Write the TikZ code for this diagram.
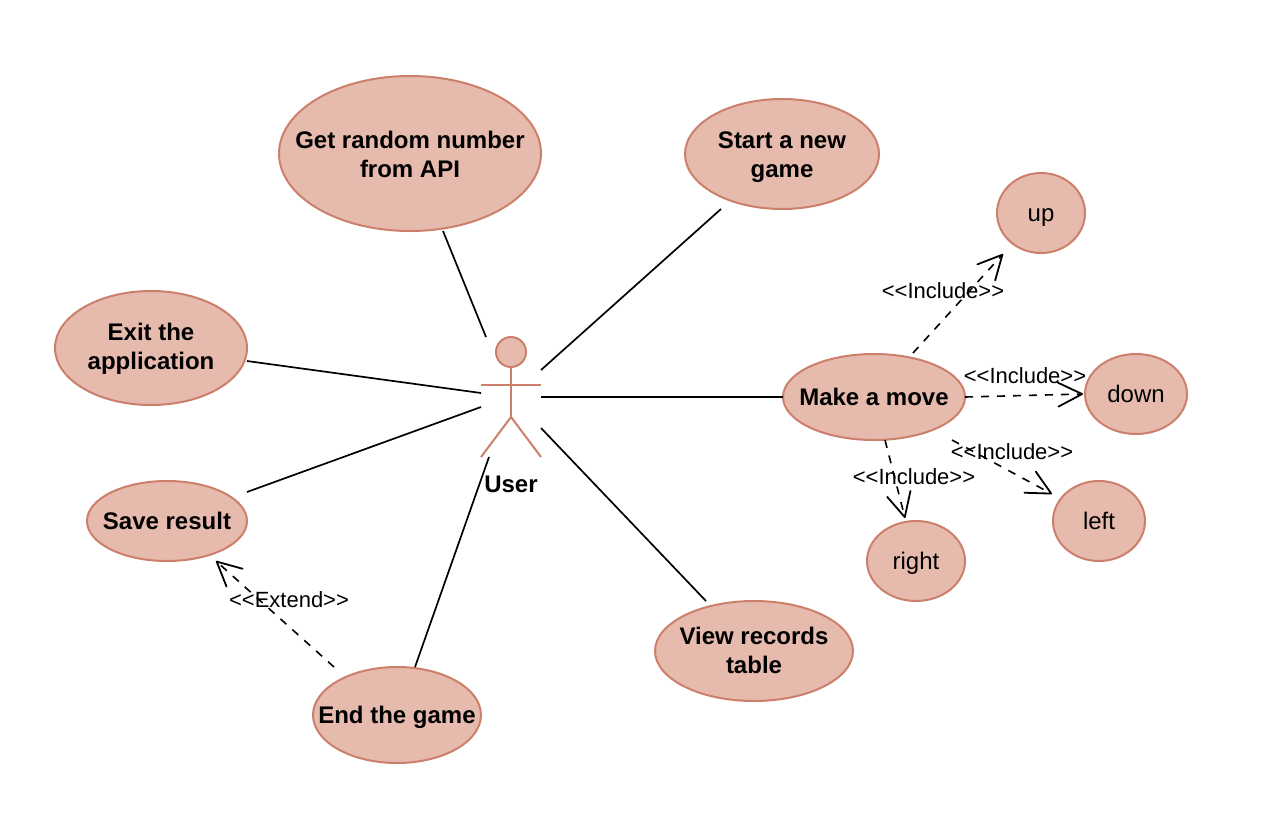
\documentclass[tikz,border=0pt]{standalone}
\usepackage{fontspec}
\setmainfont{Liberation Sans}
\usetikzlibrary{shapes.geometric,arrows.meta}
\definecolor{ucfill}{HTML}{E6BBAE}
\definecolor{ucline}{HTML}{CC7F6B}
\tikzset{
  uc/.style 2 args={ellipse,draw=ucline,fill=ucfill,line width=2*0.75pt,inner sep=-60pt,outer sep=0pt,
    minimum width=#1*0.75pt,minimum height=#2*0.75pt,align=center,text height=17.4*0.75pt,text depth=0pt},
  bigtext/.style={font=\fontsize{18}{21.75}\selectfont\bfseries},
  smalltext/.style={font=\fontsize{18}{21.75}\selectfont},
  edgelabel/.style={font=\fontsize{16.5}{20}\selectfont,inner sep=0pt},
  assoc/.style={draw=black,line width=1.7*0.75pt},
  dep/.style={draw=black,line width=1.6*0.75pt,dash pattern=on 6pt off 6pt,
    -{Straight Barb[length=18pt,width=18pt,line width=1.8*0.75pt,round=false,sep=0pt]}},
  figure/.style={draw=ucline,line width=2*0.75pt},
}
\begin{document}
\begin{tikzpicture}[x=0.75pt,y=-0.75pt]
\useasboundingbox (0,0) rectangle (1262,818);
% use cases
\node[uc={262}{155},bigtext,text height=48.4*0.75pt] (api) at (410,153.5) {Get random number\\from API};
\node[uc={194}{110},bigtext,text height=47.4*0.75pt] (start) at (782,154) {Start a new\\game};
\node[uc={192}{114},bigtext,text height=43.4*0.75pt] (exit) at (151,348) {Exit the\\application};
\node[uc={160}{80},bigtext] (save) at (167,521) {Save result};
\node[uc={168}{96},bigtext] (end) at (397,715) {End the game};
\node[uc={198}{100},bigtext,text height=44.4*0.75pt] (view) at (754,651) {View records\\table};
\node[uc={182}{86},bigtext] (move) at (874,397) {Make a move};
\node[uc={88}{80},smalltext] (up) at (1041,213) {up};
\node[uc={102}{80},smalltext] (down) at (1136,394) {down};
\node[uc={92}{80},smalltext] (left) at (1099,521) {left};
\node[uc={98}{80},smalltext] (right) at (916,561) {right};
% actor
\coordinate (actor) at (511,397);
\node[circle,draw=ucline,fill=ucfill,line width=2*0.75pt,minimum size=30*0.75pt,inner sep=0pt] (head) at (511,352) {};
\coordinate (hip) at (511,417);
\coordinate (lfoot) at (481,457);
\coordinate (rfoot) at (541,457);
\coordinate (larm) at (481,385);
\coordinate (rarm) at (541,385);
\draw[figure] (head.south) -- (hip);
\draw[figure] (larm) -- (rarm);
\draw[figure] (lfoot) -- (hip) -- (rfoot);
\node[bigtext,inner sep=0pt] (user) at (511,484) {User};
% associations
\draw[assoc] ([shift={(33,77.5)}]api.center) -- ([shift={(-25,-60)}]actor);
\draw[assoc] ([shift={(-61,55)}]start.center) -- ([shift={(30,-27)}]actor);
\draw[assoc] ([shift={(96,13)}]exit.center) -- ([shift={(-30,-4)}]actor);
\draw[assoc] ([shift={(80,-29)}]save.center) -- ([shift={(-30,10)}]actor);
\draw[assoc] ([shift={(18,-48)}]end.center) -- ([shift={(-22,60)}]actor);
\draw[assoc] ([shift={(-48,-50)}]view.center) -- ([shift={(30,31)}]actor);
\draw[assoc] (move.west) -- ([shift={(30,0)}]actor);
% dependencies
\draw[dep] ([shift={(39,-44)}]move.center) -- ([shift={(-38,41)}]up.center);
\draw[dep] (move.east) -- ([shift={(-53,0)}]down.center);
\draw[dep] ([shift={(78,43)}]move.center) -- ([shift={(-47,-27)}]left.center);
\draw[dep] ([shift={(11,43)}]move.center) -- ([shift={(-11,-43)}]right.center);
\draw[dep] ([shift={(-63,-48)}]end.center) -- ([shift={(49,40)}]save.center);
% labels
\node[edgelabel] (l1) at (943,291) {<{}<Include>{}>};
\node[edgelabel] (l2) at (1025,376) {<{}<Include>{}>};
\node[edgelabel] (l3) at (1012,452) {<{}<Include>{}>};
\node[edgelabel] (l4) at (914,477) {<{}<Include>{}>};
\node[edgelabel] (l5) at (289,600) {<{}<Extend>{}>};
\end{tikzpicture}
\end{document}
